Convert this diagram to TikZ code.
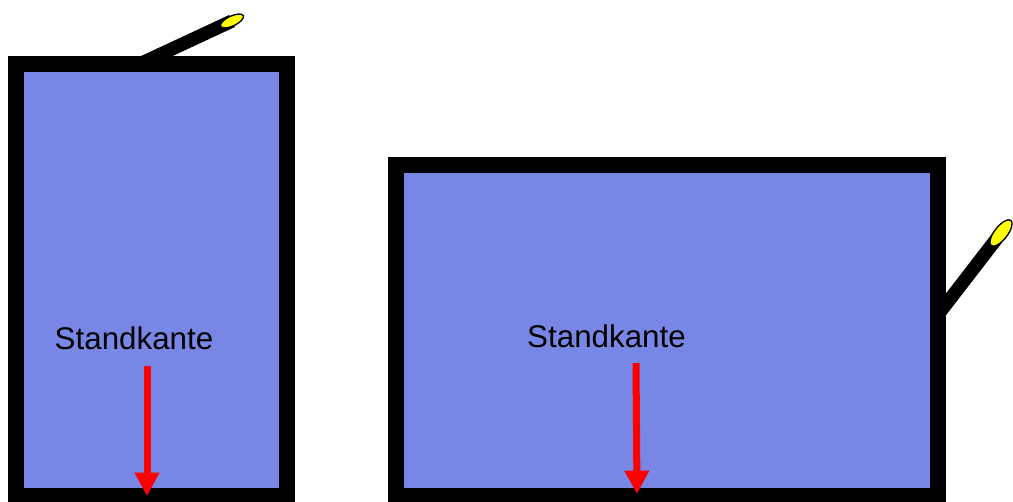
\documentclass[tikz,border=0pt]{standalone}
\usepackage{fontspec}
\setmainfont{Liberation Sans}
\usetikzlibrary{arrows.meta}
\definecolor{boxblue}{RGB}{120,134,230}
\definecolor{tipyellow}{RGB}{255,255,0}
\definecolor{arrowred}{RGB}{255,0,0}
\tikzset{
  frame/.style={draw=black, fill=boxblue, line width=12pt, line join=miter},
  stick/.style={draw=black, line width=10pt},
  stickend/.style={fill=tipyellow, draw=black, line width=1pt},
  downarrow/.style={draw=arrowred, line width=5.25pt, -{Triangle[width=17.5pt,length=17.5pt]}},
  lbl/.style={font=\fontsize{23.5}{28}\selectfont, inner sep=0pt}
}
\begin{document}
\begin{tikzpicture}[x=0.75pt,y=-0.75pt]
\useasboundingbox (0,0) rectangle (1013,501);
\clip (0,0) rectangle (1013,501);
% sticks (behind frames)
\coordinate (s1a) at (144,62);
\coordinate (s1b) at (232,21);
\draw[stick] (s1a) -- (s1b);
\draw[stickend, rotate around={25:(s1b)}] (s1b) ellipse [x radius=12.5, y radius=5];
\coordinate (s2a) at (930,325);
\coordinate (s2b) at (1001,233);
\draw[stick] (s2a) -- (s2b);
\draw[stickend, rotate around={52:(s2b)}] (s2b) ellipse [x radius=16, y radius=6.5];
% frames
\draw[frame] (16,63.5) rectangle (286.5,496);
\draw[frame] (396,164.5) rectangle (937.5,496);
% labels
\node[lbl] (t1) at (134,338) {Standkante};
\node[lbl] (t2) at (606.5,336) {Standkante};
% arrows
\coordinate (a1s) at (147,366);
\coordinate (a1e) at (147,496);
\draw[downarrow] (a1s) -- (a1e);
\coordinate (a2s) at (636,363);
\coordinate (a2e) at (637,494);
\draw[downarrow] (a2s) -- (a2e);
\end{tikzpicture}
\end{document}
